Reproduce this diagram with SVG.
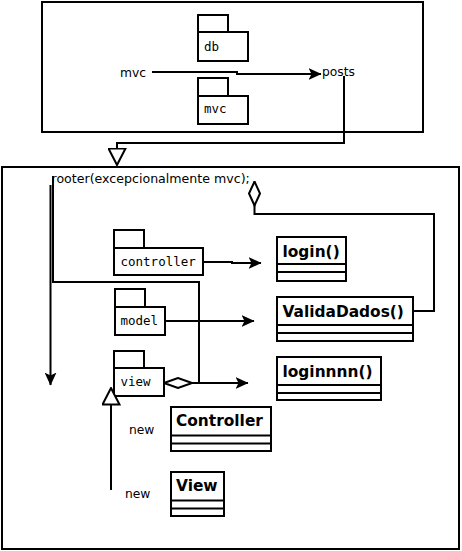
<svg xmlns="http://www.w3.org/2000/svg" width="462" height="551" viewBox="0 0 462 551">
<style>
.frame{fill:#fff;stroke:#000;stroke-width:2}
.box{fill:#fff;stroke:#000;stroke-width:2}
.ln{fill:none;stroke:#000;stroke-width:2}
.lbl{font-family:"DejaVu Sans",sans-serif;font-size:12.3px;fill:#000}
.pkg{font-family:"DejaVu Sans Mono",monospace;font-size:12.5px;fill:#000}
.cls{font-family:"DejaVu Sans",sans-serif;font-size:15.4px;font-weight:bold;fill:#000}
</style>
<defs>
<marker id="arr" markerUnits="userSpaceOnUse" markerWidth="13" markerHeight="12" viewBox="0 0 13 12" refX="12.5" refY="6" orient="auto">
<path d="M0,0 L13,6 L0,12 L3,6 z" fill="#000"/>
</marker>
<marker id="tri" markerUnits="userSpaceOnUse" markerWidth="19" markerHeight="19" viewBox="0 0 19 19" refX="17.5" refY="9.5" orient="auto">
<path d="M1,1 L17.5,9.5 L1,18 z" fill="#fff" stroke="#000" stroke-width="2"/>
</marker>
<marker id="dia" markerUnits="userSpaceOnUse" markerWidth="30" markerHeight="12" viewBox="0 0 30 12" refX="1" refY="6" orient="auto">
<path d="M1,6 L15,1 L29,6 L15,11 z" fill="#fff" stroke="#000" stroke-width="2"/>
</marker>
<marker id="dia2" markerUnits="userSpaceOnUse" markerWidth="26" markerHeight="13" viewBox="0 0 26 13" refX="25" refY="6.5" orient="auto">
<path d="M1,6.5 L13,1 L25,6.5 L13,12 z" fill="#fff" stroke="#000" stroke-width="2"/>
</marker>
</defs>

<g id="frame-top"><rect class="frame" x="42" y="2" width="381" height="130"/></g>
<g id="frame-bottom"><rect class="frame" x="2" y="167" width="457" height="382"/></g>

<g id="pkg-db">
<rect class="box" x="198" y="15" width="30" height="17"/>
<rect class="box" x="198" y="32" width="50" height="29"/>
<text class="pkg" x="204" y="51">db</text>
</g>
<g id="pkg-mvc">
<rect class="box" x="198" y="78" width="30" height="18"/>
<rect class="box" x="198" y="96" width="50" height="28"/>
<text class="pkg" x="204" y="113">mvc</text>
</g>
<g id="lbl-mvc"><text class="lbl" x="120" y="77">mvc</text></g>
<g id="lbl-posts"><text class="lbl" x="322" y="76">posts</text></g>
<g id="lbl-rooter"><text class="lbl" x="51.5" y="182.5" style="font-size:12.6px">rooter(excepcionalmente mvc);</text></g>

<g id="pkg-controller">
<rect class="box" x="114" y="230" width="30" height="18"/>
<rect class="box" x="114" y="248" width="89" height="27"/>
<text class="pkg" x="120.5" y="266">controller</text>
</g>
<g id="pkg-model">
<rect class="box" x="115" y="289" width="30" height="18"/>
<rect class="box" x="115" y="307" width="50" height="28"/>
<text class="pkg" x="120.5" y="324.5">model</text>
</g>
<g id="pkg-view">
<rect class="box" x="114" y="351" width="30" height="17"/>
<rect class="box" x="114" y="368" width="50" height="28"/>
<text class="pkg" x="120.5" y="386">view</text>
</g>

<g id="cls-login">
<rect class="box" x="277" y="237" width="69" height="44"/>
<line class="ln" x1="277" y1="264" x2="346" y2="264"/>
<line class="ln" x1="277" y1="272" x2="346" y2="272"/>
<text class="cls" x="282.5" y="256.5">login()</text>
</g>
<g id="cls-validadados">
<rect class="box" x="277" y="297" width="136" height="44"/>
<line class="ln" x1="277" y1="325" x2="413" y2="325"/>
<line class="ln" x1="277" y1="333" x2="413" y2="333"/>
<text class="cls" x="282.5" y="316.5">ValidaDados()</text>
</g>
<g id="cls-loginnnn">
<rect class="box" x="277" y="357" width="104" height="43"/>
<line class="ln" x1="277" y1="385" x2="381" y2="385"/>
<line class="ln" x1="277" y1="393" x2="381" y2="393"/>
<text class="cls" x="282.5" y="377">loginnnn()</text>
</g>
<g id="cls-controller">
<rect class="box" x="171" y="407" width="100" height="44"/>
<line class="ln" x1="171" y1="435.5" x2="271" y2="435.5"/>
<line class="ln" x1="171" y1="443.5" x2="271" y2="443.5"/>
<text class="cls" x="176" y="425.5">Controller</text>
</g>
<g id="cls-view">
<rect class="box" x="171" y="472" width="53" height="44"/>
<line class="ln" x1="171" y1="500.5" x2="224" y2="500.5"/>
<line class="ln" x1="171" y1="508.5" x2="224" y2="508.5"/>
<text class="cls" x="176" y="490.5">View</text>
</g>

<g id="lbl-new1"><text class="lbl" x="129" y="434">new</text></g>
<g id="lbl-new2"><text class="lbl" x="125" y="497.5">new</text></g>

<g id="connectors">
<polyline class="ln" points="152,72 237,72 237,74 321,74" marker-end="url(#arr)"/>
<polyline class="ln" points="344,76 344,143 117,143 117,165" marker-end="url(#tri)"/>
<polyline class="ln" points="50.5,185 50.5,385" marker-end="url(#arr)"/>
<polyline class="ln" points="53,176 53,282 199,282 199,383"/>
<polyline class="ln" points="164,383 248,383" marker-start="url(#dia)" marker-end="url(#arr)"/>
<polyline class="ln" points="203,262 232,262 232,263 261,263" marker-end="url(#arr)"/>
<polyline class="ln" points="166,321 254,321" marker-end="url(#arr)"/>
<polyline class="ln" points="413,311 434,311 434,214 254.5,214 254.5,181.5" marker-end="url(#dia2)"/>
<polyline class="ln" points="111,490 111,388" marker-end="url(#tri)"/>
</g>
</svg>
